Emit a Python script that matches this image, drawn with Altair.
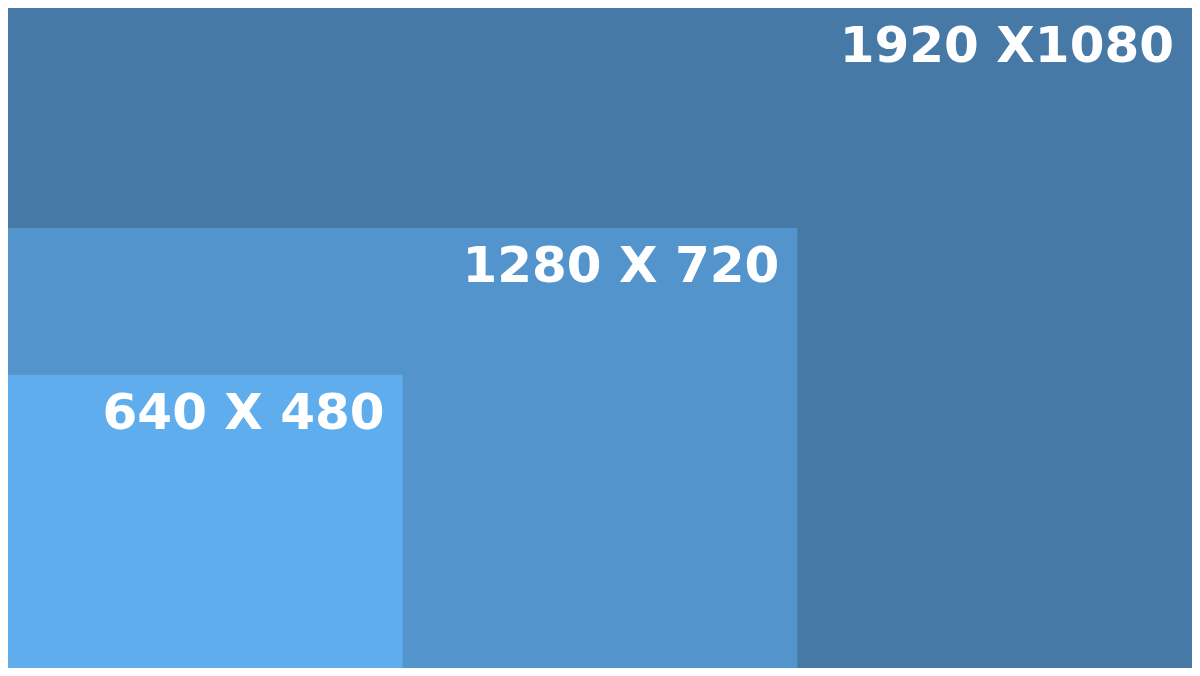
import altair as alt
import pandas as pd

labels = ['1920 X1080', '1280 X 720', '640 X 480']
widths = [1920, 1280, 640]
heights = [1080, 720, 480]
colors = ['#4679a6', '#5294cb', '#5fadec']

df = pd.DataFrame({'label': labels, 'w': widths, 'h': heights, 'c': colors, 'z': [0, 0, 0]})

xs = alt.Scale(domain=[0, 1920], nice=False, zero=True)
ys = alt.Scale(domain=[0, 1080], nice=False, zero=True)

base = alt.Chart(df)

rects = base.mark_rect().encode(
    x=alt.X('z:Q', scale=xs, axis=None),
    x2='w:Q',
    y=alt.Y('z:Q', scale=ys, axis=None),
    y2='h:Q',
    color=alt.Color('c:N', scale=None),
    order=alt.Order('w:Q', sort='descending'),
)

text = base.mark_text(
    align='right', baseline='top', dx=-18, dy=14,
    font='DejaVu Sans', fontWeight='bold', fontSize=50, color='white',
).encode(
    x=alt.X('w:Q', scale=xs, axis=None),
    y=alt.Y('h:Q', scale=ys, axis=None),
    text='label:N',
)

chart = alt.layer(rects, text).properties(
    width=1184, height=660, padding=0,
).configure_view(stroke=None)

chart.save("out.html", embed_options={"renderer": "svg", "actions": False})
